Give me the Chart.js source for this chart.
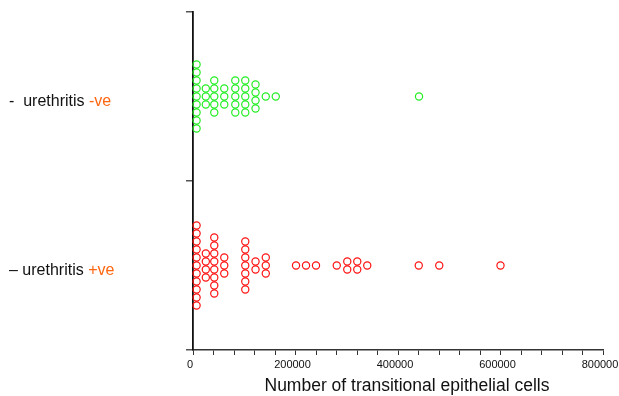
<!DOCTYPE html>
<html lang="en">
<head>
    <meta charset="UTF-8">
    <title>Transitional epithelial cells</title>
    <script src="https://cdn.jsdelivr.net/npm/chart.js@4"></script>
    <style>
        html, body { margin: 0; padding: 0; background: #fff; }
        #wrap { width: 619px; height: 396px; }
    </style>
</head>
<body>
<div id="wrap"><canvas id="chart" width="619" height="396"></canvas></div>
<script>
// categories (top to bottom), each label split in plain + coloured parts
const categories = ['urethritis -ve', 'urethritis +ve'];
const labelLead = ['-  urethritis ', '\u2013 urethritis '];
const labelTail = ['-ve', '+ve'];

// cell counts, one entry per dot
const negValues = [
    7000, 7000, 7000, 7000, 7000, 7000, 7000, 7000, 7000,
    25000, 25000, 25000,
    41500, 41500, 41500, 41500, 41500,
    61000, 61000, 61000,
    82500, 82500, 82500, 82500, 82500,
    102000, 102000, 102000, 102000, 102000,
    122000, 122000, 122000, 122000,
    142000, 161500, 441000
];
const posValues = [
    7000, 7000, 7000, 7000, 7000, 7000, 7000, 7000, 7000, 7000, 7000,
    25000, 25000, 25000, 25000,
    41500, 41500, 41500, 41500, 41500, 41500, 41500, 41500,
    61000, 61000, 61000,
    102000, 102000, 102000, 102000, 102000, 102000, 102000,
    122000, 122000,
    142000, 142000, 142000,
    201000, 220500, 240000, 280500,
    301000, 301000, 320500, 320500, 340000,
    440500, 480500, 600000
];

const xTicks = [0, 200000, 400000, 600000, 800000];
const xTitle = 'Number of transitional epithelial cells';

const rowStep = 8 / 169; // vertical gap between stacked dots, in category units

// stack equal values around the category centre (simple beeswarm)
function swarm(values, centre) {
    const counts = {};
    values.forEach(v => { counts[v] = (counts[v] || 0) + 1; });
    const seen = {};
    return values.map(v => {
        const n = counts[v];
        const i = seen[v] || 0;
        seen[v] = i + 1;
        return { x: v, y: centre + (i - (n - 1) / 2) * rowStep };
    });
}

const FONT = '"Liberation Sans", Arial, Helvetica, sans-serif';

const labelPlugin = {
    id: 'labels',
    afterDraw(chart) {
        const ctx = chart.ctx;
        const yScale = chart.scales.y;
        const area = chart.chartArea;
        ctx.save();
        ctx.font = '16px ' + FONT;
        ctx.textBaseline = 'alphabetic';
        ctx.textAlign = 'left';
        categories.forEach((c, i) => {
            const y = yScale.getPixelForValue(1.5 - i) + 9.5;
            ctx.fillStyle = '#111';
            ctx.fillText(labelLead[i], 9, y);
            const w = ctx.measureText(labelLead[i]).width;
            ctx.fillStyle = '#ff6611';
            ctx.fillText(labelTail[i], 9 + w, y);
        });
        ctx.font = '17.5px ' + FONT;
        ctx.fillStyle = '#111';
        ctx.textAlign = 'center';
        ctx.fillText(xTitle, (area.left + area.right) / 2 + 9, 391);
        ctx.restore();
    }
};

new Chart(document.getElementById('chart'), {
    type: 'scatter',
    data: {
        datasets: [{
            label: categories[0],
            data: swarm(negValues, 1.5),
            borderColor: '#22ee22',
            backgroundColor: 'rgba(0,0,0,0)',
            pointRadius: 3.6,
            borderWidth: 1.2
        }, {
            label: categories[1],
            data: swarm(posValues, 0.5),
            borderColor: '#ff1111',
            backgroundColor: 'rgba(0,0,0,0)',
            pointRadius: 3.6,
            borderWidth: 1.2
        }]
    },
    options: {
        responsive: false,
        animation: false,
        clip: false,
        layout: { padding: { left: 0, right: 16, top: 12, bottom: 0 } },
        plugins: { legend: { display: false }, tooltip: { enabled: false } },
        scales: {
            x: {
                type: 'linear',
                min: 0,
                max: 800000,
                afterFit: s => { s.height = 46; s.paddingLeft = 0; s.paddingRight = 0; },
                border: { display: true, color: '#333', width: 1.5 },
                grid: { drawOnChartArea: false, drawTicks: true, tickLength: 5, color: '#333', lineWidth: 1 },
                ticks: {
                    stepSize: 40000,
                    autoSkip: false,
                    maxRotation: 0,
                    padding: 3,
                    labelOffset: -3,
                    color: '#111',
                    font: { family: FONT, size: 11 },
                    callback: v => xTicks.includes(v) ? String(v) : ''
                }
            },
            y: {
                type: 'linear',
                min: 0,
                max: 2,
                afterFit: s => { s.width = 193; s.paddingTop = 0; s.paddingBottom = 0; },
                border: { display: true, color: '#111', width: 1.8 },
                grid: { drawOnChartArea: false, drawTicks: true, tickLength: 7, color: '#555', lineWidth: 1.5 },
                ticks: { stepSize: 1, callback: () => '' }
            }
        }
    },
    plugins: [labelPlugin]
});
</script>
</body>
</html>
